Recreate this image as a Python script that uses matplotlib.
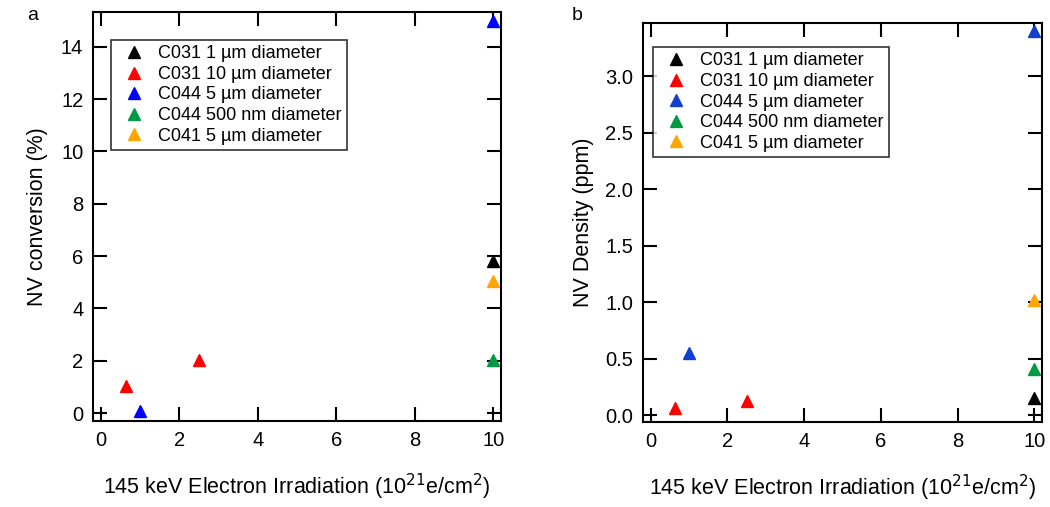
import numpy as np
import matplotlib
matplotlib.use("Agg")
import matplotlib.pyplot as plt

plt.rcParams['font.family'] = ['Liberation Sans', 'DejaVu Sans']

# series labels / colours
labels = ['C031 1 µm diameter', 'C031 10 µm diameter', 'C044 5 µm diameter',
          'C044 500 nm diameter', 'C041 5 µm diameter']
colors_a = ['black', '#ff0000', '#0000ff', '#009944', '#ffa500']
colors_b = ['black', '#ff0000', '#1040cc', '#009944', '#ffa500']

# x: 145 keV electron irradiation (1e21 e/cm^2)
x_c031_1 = [10]
x_c031_10 = [0.63, 2.5]
x_c044_5 = [1.0, 10]
x_c044_500 = [10]
x_c041_5 = [10]

# panel a: NV conversion (%)
conv_c031_1 = [5.8]
conv_c031_10 = [1.05, 2.05]
conv_c044_5 = [0.08, 15.0]
conv_c044_500 = [2.05]
conv_c041_5 = [5.05]

# panel b: NV density (ppm)
dens_c031_1 = [0.15]
dens_c031_10 = [0.06, 0.13]
dens_c044_5 = [0.55, 3.4]
dens_c044_500 = [0.41]
dens_c041_5 = [1.02]

xs = [x_c031_1, x_c031_10, x_c044_5, x_c044_500, x_c041_5]
conv = [conv_c031_1, conv_c031_10, conv_c044_5, conv_c044_500, conv_c041_5]
dens = [dens_c031_1, dens_c031_10, dens_c044_5, dens_c044_500, dens_c041_5]

fig = plt.figure(figsize=(10.5, 5.07), dpi=100)
ax1 = fig.add_axes([93/1050, 1-421/507, 408/1050, 409/507])
ax2 = fig.add_axes([643/1050, 1-422/507, 399/1050, 399/507])

xlab = '145 keV Electron Irradiation (10$^{21}$e/cm$^{2}$)'

def style(ax):
    for s in ax.spines.values():
        s.set_linewidth(1.5)
    ax.tick_params(direction='in', length=10, width=1.5, labelsize=14.5,
                   top=True, right=True, pad=7)
    ax.set_xticks([0, 2, 4, 6, 8, 10])
    ax.set_xlim(-0.2, 10.2)
    ax.set_xlabel(xlab, fontsize=15.5, labelpad=16)

for i in range(5):
    ax1.plot(xs[i], conv[i], '^', color=colors_a[i], ms=8.5, ls='none',
             label=labels[i], clip_on=False)
    ax2.plot(xs[i], dens[i], '^', color=colors_b[i], ms=8.5, ls='none',
             label=labels[i], clip_on=False)

style(ax1)
ax1.set_ylim(-0.3, 15.33)
ax1.set_yticks(np.arange(0, 15, 2))
ax1.set_ylabel('NV conversion (%)', fontsize=15.5, labelpad=9)

style(ax2)
ax2.set_ylim(-0.06, 3.47)
ax2.set_yticks([0, 0.5, 1.0, 1.5, 2.0, 2.5, 3.0])
ax2.set_yticklabels(['0.0', '0.5', '1.0', '1.5', '2.0', '2.5', '3.0'])
ax2.set_ylabel('NV Density (ppm)', fontsize=15.5, labelpad=8)

for ax, loc in [(ax1, (0.044, 0.932)), (ax2, (0.025, 0.94))]:
    leg = ax.legend(loc='upper left', bbox_to_anchor=loc, fontsize=13,
                    frameon=True, fancybox=False, handletextpad=0.3,
                    borderpad=0.3, labelspacing=0.2, handlelength=2.0,
                    borderaxespad=0, markerscale=0.95)
    leg.get_frame().set_edgecolor('black')
    leg.get_frame().set_linewidth(1.2)

fig.text(27/1050, 1-15/507, 'a', fontsize=14, va='center', ha='left')
fig.text(572/1050, 1-15/507, 'b', fontsize=14, va='center', ha='left')

fig.savefig('out.png', dpi=100)
